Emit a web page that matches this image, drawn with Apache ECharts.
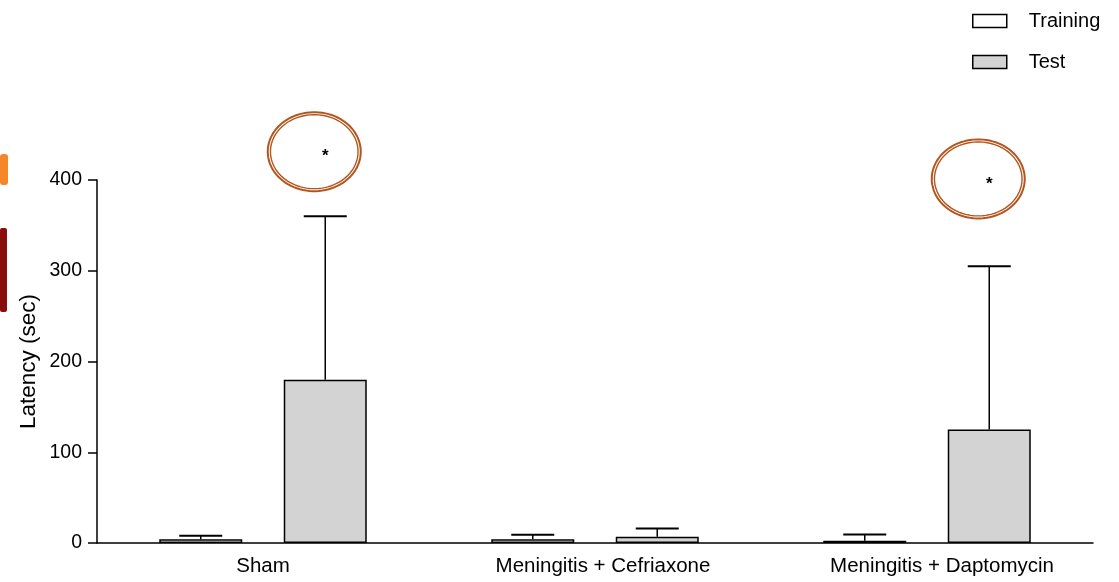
<!DOCTYPE html>
<html>
<head>
<meta charset="utf-8">
<script src="https://cdn.jsdelivr.net/npm/echarts@6/dist/echarts.min.js"></script>
<style>
html,body{margin:0;padding:0;background:#fff;}
#chart{width:1119px;height:582px;}
</style>
</head>
<body>
<div id="chart"></div>
<script>
// ---- data ----
const categories = ['Sham', 'Meningitis + Cefriaxone', 'Meningitis + Daptomycin'];
const trainingMean = [4, 4, 2.5];
const trainingUpper = [8, 9, 9.5];      // top of error bar
const testMean = [180, 7, 125];
const testUpper = [360, 16, 305];       // top of error bar
const yTicks = [0, 100, 200, 300, 400];
// significance marks: [category index, value position]
const sigMarks = [[0, 429], [2, 399]];

// ---- styling constants ----
const FONT = 'Liberation Sans, Arial, Helvetica, sans-serif';
const BAR_W = 83;
const BAR_GAP = 0.5;
const OFFSET = (BAR_W + BAR_W * BAR_GAP) / 2;
const CAP_W = 43;
const RING = '#b3561e';
const LABEL_SHIFT = [0, 8, 15];   // horizontal nudge of category labels (px)

function errorRender(sign) {
  return function (params, api) {
    const c = api.coord([api.value(0), api.value(1)]);
    const t = api.coord([api.value(0), api.value(2)]);
    const x = c[0] + sign * OFFSET;
    return {
      type: 'group',
      children: [
        { type: 'line', shape: { x1: x, y1: c[1], x2: x, y2: t[1] }, style: { stroke: '#000', lineWidth: 1.5 } },
        { type: 'line', shape: { x1: x - CAP_W / 2, y1: t[1], x2: x + CAP_W / 2, y2: t[1] }, style: { stroke: '#000', lineWidth: 2 } }
      ]
    };
  };
}

function ellipsePts(cx, cy, rx, ry) {
  const pts = [];
  for (let i = 0; i < 90; i++) {
    const a = (i / 90) * Math.PI * 2;
    pts.push([cx + rx * Math.cos(a), cy + ry * Math.sin(a)]);
  }
  return pts;
}

function sigRender(params, api) {
  const p = api.coord([api.value(0), api.value(1)]);
  const x = p[0] + OFFSET;
  const y = p[1];
  const cx = x - 11, cy = y - 2;
  return {
    type: 'group',
    children: [
      { type: 'polygon', shape: { points: ellipsePts(cx, cy, 46.5, 39.5) }, style: { fill: 'none', stroke: RING, lineWidth: 2 } },
      { type: 'polygon', shape: { points: ellipsePts(cx, cy, 43.8, 37) }, style: { fill: 'none', stroke: RING, lineWidth: 1.4 } },
      { type: 'text', style: { text: '*', x: x, y: y + 3, fill: '#000', font: 'bold 17px ' + FONT, align: 'center', verticalAlign: 'middle' } }
    ]
  };
}

const chart = echarts.init(document.getElementById('chart'));
chart.setOption({
  animation: false,
  backgroundColor: '#fff',
  textStyle: { fontFamily: FONT, color: '#000' },
  grid: { left: 97, right: 26, top: 180, bottom: 39, containLabel: false },
  legend: {
    orient: 'vertical',
    left: 967,
    top: 6,
    itemWidth: 34,
    itemHeight: 13,
    itemGap: 21,
    icon: 'rect',
    selectedMode: false,
    textStyle: { fontSize: 20, fontFamily: FONT, color: '#000', lineHeight: 20, padding: [0, 0, 0, 17] },
    data: [
      { name: 'Training', itemStyle: { color: '#fff', borderColor: '#000', borderWidth: 1.5 } },
      { name: 'Test', itemStyle: { color: '#d3d3d3', borderColor: '#000', borderWidth: 1.5 } }
    ]
  },
  xAxis: {
    type: 'category',
    data: categories.map((c, i) => ({ value: c, textStyle: { padding: [0, 0, 0, LABEL_SHIFT[i] * 2] } })),
    axisLine: { lineStyle: { color: '#000', width: 1.5 } },
    axisTick: { alignWithLabel: true, length: 10, lineStyle: { color: '#000', width: 1.5 } },
    axisLabel: { fontSize: 20.5, color: '#000', fontFamily: FONT, margin: 13 },
    splitLine: { show: false }
  },
  yAxis: {
    type: 'value',
    min: 0,
    max: 400,
    interval: 100,
    name: 'Latency (sec)',
    nameLocation: 'middle',
    nameRotate: 90,
    nameGap: 57,
    nameMoveOverlap: false,
    nameTextStyle: { fontSize: 22.5, color: '#000', fontFamily: FONT },
    axisLine: { show: true, lineStyle: { color: '#000', width: 1.5 } },
    axisTick: { show: true, length: 9, lineStyle: { color: '#000', width: 1.5 } },
    axisLabel: { fontSize: 19.5, color: '#000', fontFamily: FONT, margin: 15,
      formatter: function (v) { return yTicks.indexOf(v) >= 0 ? String(v) : ''; } },
    splitLine: { show: false }
  },
  series: [
    {
      name: 'Training', type: 'bar', data: trainingMean, barWidth: BAR_W, barGap: '50%',
      itemStyle: { color: '#fff', borderColor: '#000', borderWidth: 1.5 }
    },
    {
      name: 'Test', type: 'bar', data: testMean, barWidth: BAR_W, barGap: '50%',
      itemStyle: { color: '#d3d3d3', borderColor: '#000', borderWidth: 1.5 }
    },
    {
      type: 'custom', name: 'TrainingErr', renderItem: errorRender(-1), z: 5,
      data: categories.map((c, i) => [i, trainingMean[i], trainingUpper[i]])
    },
    {
      type: 'custom', name: 'TestErr', renderItem: errorRender(1), z: 5,
      data: categories.map((c, i) => [i, testMean[i], testUpper[i]])
    },
    {
      type: 'custom', name: 'Significance', renderItem: sigRender, z: 6, clip: false,
      data: sigMarks
    }
  ],
  graphic: [
    { type: 'rect', left: 0, top: 154, shape: { width: 8, height: 31, r: 3 }, style: { fill: '#f5862a' } },
    { type: 'rect', left: 0, top: 228, shape: { width: 7, height: 84, r: 2 }, style: { fill: '#8a0d0d' } }
  ]
});
</script>
</body>
</html>
